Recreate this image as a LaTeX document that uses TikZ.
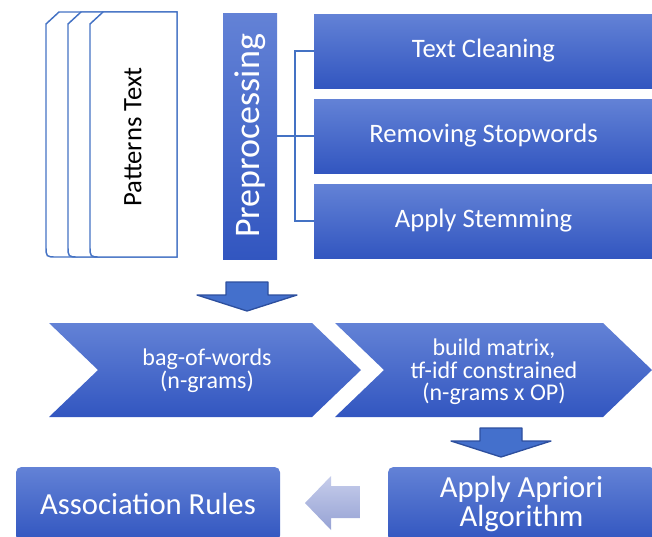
\documentclass[tikz,border=0pt]{standalone}
\usepackage{fontspec}
\setmainfont{Carlito}
\usetikzlibrary{positioning}

\definecolor{boxtop}{RGB}{99,130,214}
\definecolor{boxbot}{RGB}{50,86,192}
\definecolor{pageline}{RGB}{68,114,196}
\definecolor{arrowfill}{RGB}{68,112,204}
\definecolor{arrowline}{RGB}{45,79,158}
\definecolor{fadetop}{RGB}{198,205,235}
\definecolor{fadebot}{RGB}{150,162,212}

\tikzset{
  pagestyle/.style={draw=pageline, line width=1.1pt, fill=white},
  stepbox/.style={rectangle, top color=boxtop, bottom color=boxbot, text=white,
    inner sep=0pt, align=center, minimum width=254.25pt, minimum height=55.5pt,
    font=\fontsize{20}{24}\selectfont},
  endbox/.style={rectangle, rounded corners=4pt, top color=boxtop, bottom color=boxbot,
    text=white, inner sep=0pt, align=center, minimum height=55.5pt,
    font=\fontsize{23}{22}\selectfont},
  chevron/.style={top color=boxtop, bottom color=boxbot},
  chevtext/.style={text=white, align=center, font=\fontsize{18}{17}\selectfont},
  downarrow/.style={fill=arrowfill, draw=arrowline, line width=1pt, line join=round},
  bracket/.style={draw=pageline, line width=0.9pt}
}

\begin{document}
\begin{tikzpicture}[x=0.75pt,y=-0.75pt]  % one unit is one pixel of the sketch
    \clip (0,0) rectangle (652,536);
    \useasboundingbox (0,0) rectangle (652,536);

    % stack of text pages
    \foreach \px in {46,68,90} {
        \draw[pagestyle] (\px,24) -- (\px+13,12) -- (177,12) -- (177,257) -- (\px+11,257)
            .. controls (\px,257) .. (\px,246) -- cycle;
    }
    \node[rotate=90, font=\fontsize{20}{24}\selectfont] (patterns) at (133,137) {Patterns Text};

    % preprocessing bar and its three steps
    \node[rectangle, top color=boxtop, bottom color=boxbot, text=white, inner sep=0pt,
          minimum width=40.5pt, minimum height=184.5pt] (prep) at (250,136)
          {\rotatebox{90}{\fontsize{27}{30}\selectfont Preprocessing}};
    \node[stepbox] (clean) at (483.5,51) {Text Cleaning};
    \node[stepbox] (stop) at (483.5,136) {Removing Stopwords};
    \node[stepbox] (stem) at (483.5,221) {Apply Stemming};

    \coordinate (fork) at (295,136);
    \draw[bracket] (prep.east) -- (stop.west);
    \draw[bracket] (fork) |- (clean.west);
    \draw[bracket] (fork) |- (stem.west);

    % block arrows pointing down
    \foreach \cx/\ty in {247/282, 501/428} {
        \draw[downarrow] (\cx-21,\ty) -- (\cx+21,\ty) -- (\cx+21,\ty+13) -- (\cx+50,\ty+13)
            -- (\cx,\ty+29) -- (\cx-50,\ty+13) -- (\cx-21,\ty+13) -- cycle;
    }

    % the two chevrons
    \shade[chevron] (49,323) -- (312,323) -- (361,370) -- (312,417) -- (49,417) -- (98,370) -- cycle;
    \shade[chevron] (335,323) -- (603,323) -- (652,370) -- (603,417) -- (335,417) -- (384,370) -- cycle;
    \node[chevtext] (bow) at (207,371) {bag-of-words\\(n-grams)};
    \node[chevtext] (matrix) at (494,372) {build matrix,\\tf-idf constrained\\(n-grams x OP)};

    % last row
    \node[endbox, minimum width=198pt] (rules) at (148,504) {Association Rules};
    \node[endbox, minimum width=200.25pt] (apriori) at (521.5,504) {Apply Apriori\\Algorithm};
    \shade[top color=fadetop, bottom color=fadebot] (360,486) -- (331,486) -- (331,476)
        -- (305,503) -- (331,530) -- (331,518) -- (360,518) -- cycle;
\end{tikzpicture}
\end{document}
